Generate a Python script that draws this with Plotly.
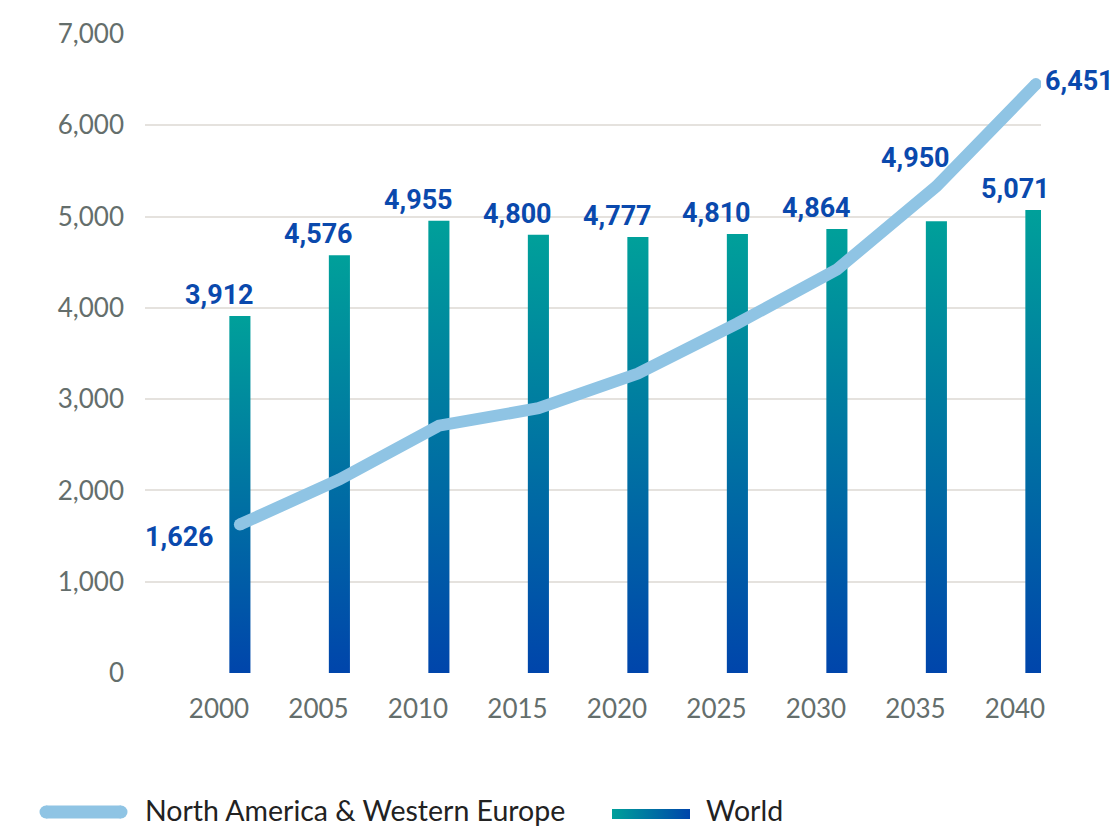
import plotly.graph_objects as go

# Data
years = [2000, 2005, 2010, 2015, 2020, 2025, 2030, 2035, 2040]
world = [3912, 4576, 4955, 4800, 4777, 4810, 4864, 4950, 5071]
na_we = [1626, 2120, 2710, 2900, 3280, 3830, 4420, 5330, 6451]
y_ticks = [0, 1000, 2000, 3000, 4000, 5000, 6000, 7000]
line_name = "North America & Western Europe"
bar_name = "World"

# Styling
W, H = 1113, 827
LINE_COLOR = "#8fc4e4"
LABEL_COLOR = "#0a49ad"
TICK_COLOR = "#646e6c"
GRID_COLOR = "#e5e2de"
BAR_SCALE = [[0, "#0045ab"], [1, "#00a09a"]]
BAR_OFFSET = 1.05      # bars sit to the right of the category centre (years)
BAR_HALF = 0.53        # half bar width (years)

# plot area in pixels
PX_L, PX_R, PX_T, PX_B = 145, 1041, 34, 673

fig = go.Figure()

# gradient bars
for yr, v in zip(years, world):
    cx = yr + BAR_OFFSET
    fig.add_trace(go.Scatter(
        x=[cx - BAR_HALF, cx - BAR_HALF, cx + BAR_HALF, cx + BAR_HALF, cx - BAR_HALF],
        y=[0, v, v, 0, 0],
        mode="lines", fill="toself",
        fillcolor="#0072a3",
        fillgradient=dict(type="vertical", colorscale=BAR_SCALE),
        line=dict(width=0), hoverinfo="skip", showlegend=False,
        xaxis="x", yaxis="y",
    ))

# regional line
line_x = [yr + BAR_OFFSET for yr in years]
fig.add_trace(go.Scatter(
    x=line_x, y=na_we, mode="lines",
    line=dict(color=LINE_COLOR, width=12),
    showlegend=False, hoverinfo="skip", xaxis="x", yaxis="y",
))
# rounded ends of the line
fig.add_trace(go.Scatter(
    x=[line_x[0], line_x[-1]], y=[na_we[0], na_we[-1]], mode="markers",
    marker=dict(color=LINE_COLOR, size=12, line=dict(width=0)),
    showlegend=False, hoverinfo="skip", xaxis="x", yaxis="y",
))

label_font = dict(family="Roboto", size=27, color=LABEL_COLOR, weight="bold")

# bar value labels
for yr, v in zip(years, world):
    extra = 42 if yr == 2035 else 0
    fig.add_annotation(
        x=yr, y=v, xref="x", yref="y", text=f"{v:,}",
        showarrow=False, yanchor="bottom", yshift=3 + extra,
        font=label_font,
    )

# line end labels
fig.add_annotation(
    x=line_x[0], y=na_we[0], xref="x", yref="y", text=f"{na_we[0]:,}",
    showarrow=False, xanchor="right", yanchor="middle",
    xshift=-24, yshift=-12, font=label_font,
)
fig.add_annotation(
    x=line_x[-1], y=na_we[-1], xref="x", yref="y", text=f"{na_we[-1]:,}",
    showarrow=False, xanchor="left", yanchor="middle",
    xshift=7, yshift=3, font=label_font,
)

# legend drawn on a pixel-space overlay
fig.add_trace(go.Scatter(
    x=[46, 121], y=[812, 812], mode="lines+markers",
    line=dict(color=LINE_COLOR, width=13),
    marker=dict(color=LINE_COLOR, size=13),
    showlegend=False, hoverinfo="skip", xaxis="x2", yaxis="y2",
))
fig.add_trace(go.Scatter(
    x=[612, 612, 690, 690, 612], y=[809, 819, 819, 809, 809],
    mode="lines", fill="toself", fillcolor="#0072a3",
    fillgradient=dict(type="horizontal", colorscale=[[0, "#00a09a"], [1, "#0045ab"]]),
    line=dict(width=0), showlegend=False, hoverinfo="skip",
    xaxis="x2", yaxis="y2",
))
legend_font = dict(family="Lato", size=28.5, color="#222222")
fig.add_annotation(x=143, y=810, xref="x2", yref="y2", text=line_name,
                   showarrow=False, xanchor="left", yanchor="middle", font=legend_font)
fig.add_annotation(x=704, y=810, xref="x2", yref="y2", text=bar_name,
                   showarrow=False, xanchor="left", yanchor="middle", font=legend_font)

# axis ranges mapped to the pixel plot area
px_per_year = (1015 - 219) / (years[-1] - years[0])
x_min = years[0] - (219 - PX_L) / px_per_year
x_max = years[0] + (PX_R - 219) / px_per_year

tick_font = dict(family="Lato", size=26, color=TICK_COLOR)

fig.update_layout(
    width=W, height=H,
    margin=dict(l=0, r=0, t=0, b=0),
    paper_bgcolor="white", plot_bgcolor="rgba(0,0,0,0)",
    template="none",
    showlegend=False,
    xaxis=dict(
        domain=[PX_L / W, PX_R / W], range=[x_min, x_max],
        tickvals=years, ticktext=[str(y) for y in years],
        showgrid=False, zeroline=False, showline=False, ticks="",
        tickfont=tick_font, ticklabelstandoff=18, automargin=False,
        fixedrange=True,
    ),
    yaxis=dict(
        domain=[1 - PX_B / H, 1 - PX_T / H], range=[0, 7000],
        tickvals=y_ticks, tickformat=",",
        showgrid=True, gridcolor=GRID_COLOR, gridwidth=2,
        zeroline=False, showline=False, ticks="",
        tickfont=tick_font, ticklabelstandoff=20, automargin=False,
        fixedrange=True,
    ),
    xaxis2=dict(domain=[0, 1], range=[0, W], visible=False, anchor="y2",
                fixedrange=True),
    yaxis2=dict(domain=[0, 1], range=[H, 0], visible=False, anchor="x2",
                fixedrange=True),
)

fig.write_html("out.html")
